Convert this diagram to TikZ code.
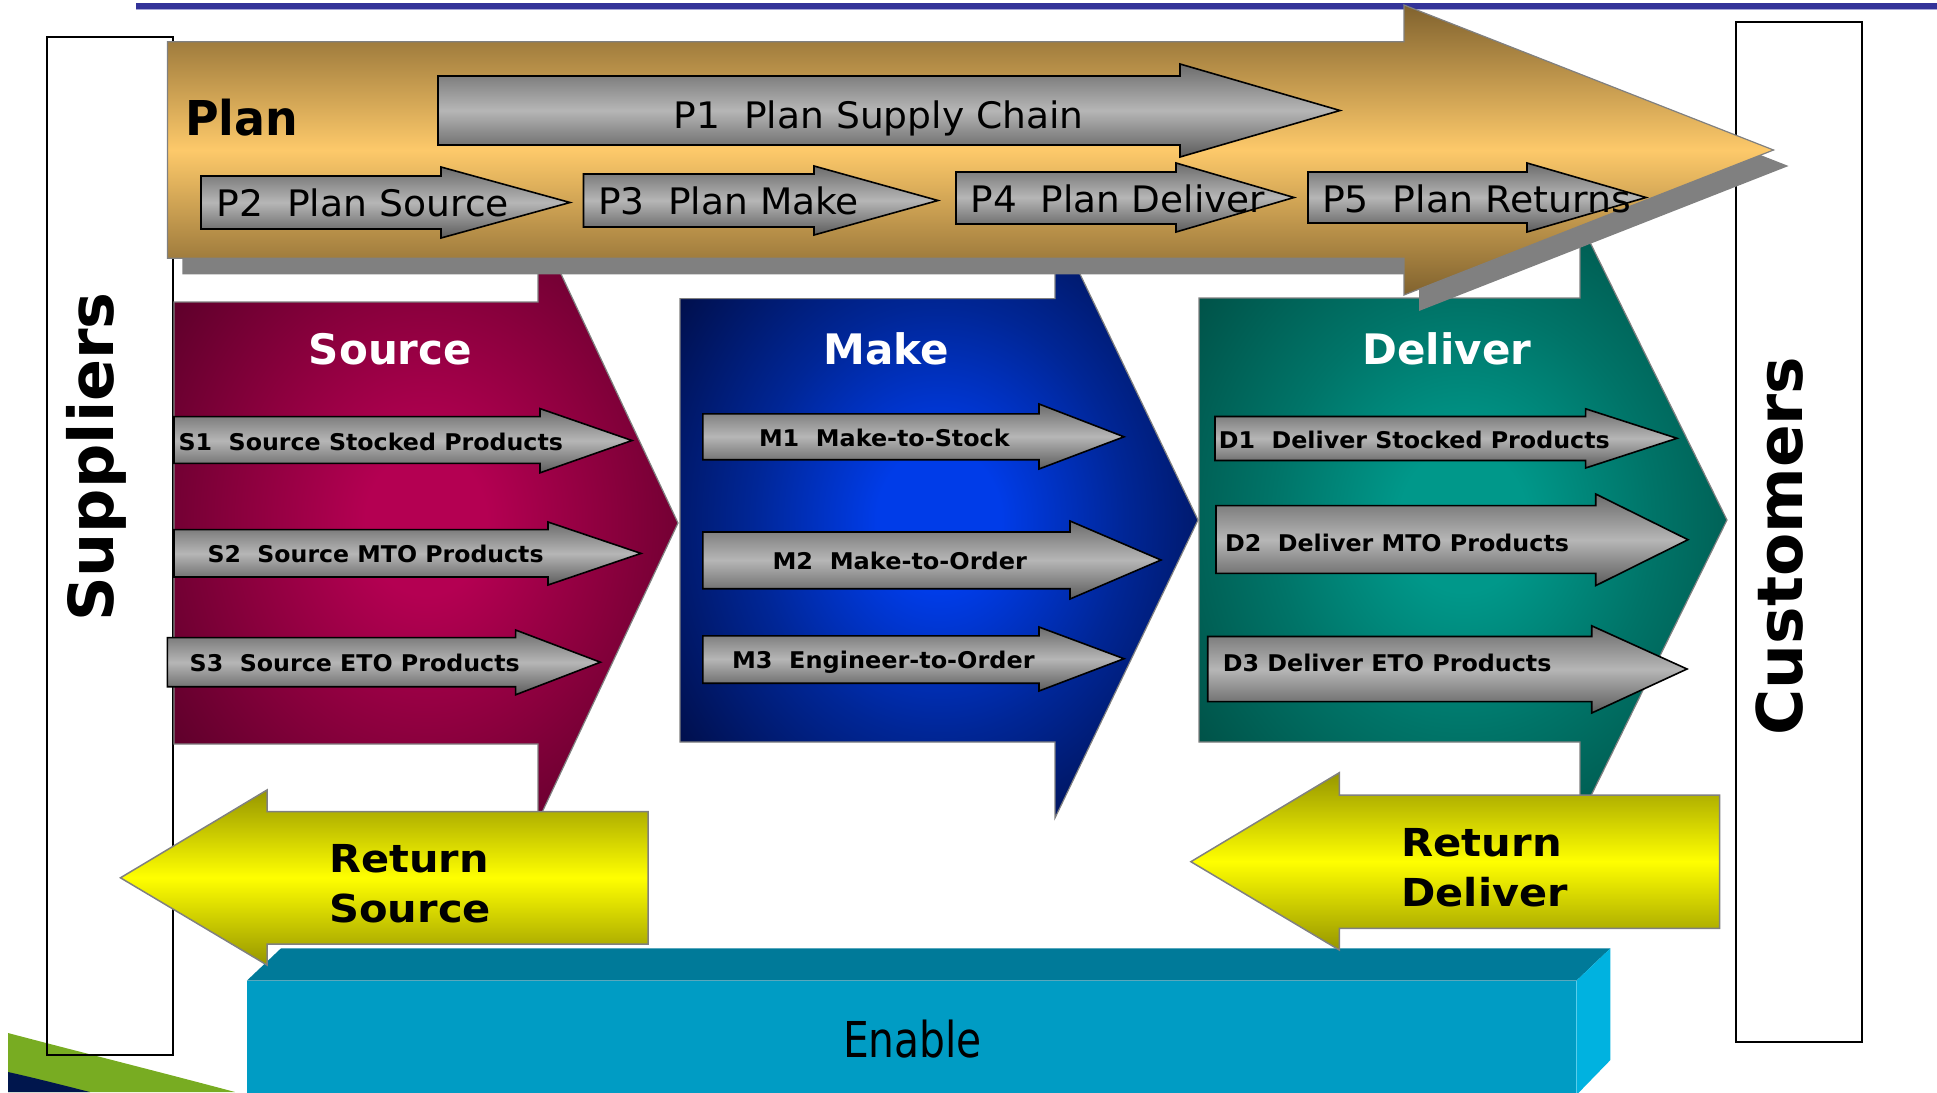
\documentclass[tikz,border=0pt]{standalone}
\usepackage{fontspec}
\setmainfont{DejaVu Sans}
\usepackage{graphicx}

% colours
\definecolor{srcIn}{RGB}{180,0,82}
\definecolor{srcMid}{RGB}{140,0,62}
\definecolor{srcOut}{RGB}{88,0,40}
\definecolor{mkIn}{RGB}{0,60,232}
\definecolor{mkMid}{RGB}{0,38,150}
\definecolor{mkOut}{RGB}{0,12,66}
\definecolor{dlIn}{RGB}{0,152,138}
\definecolor{dlMid}{RGB}{0,116,104}
\definecolor{dlOut}{RGB}{0,78,68}
\definecolor{planDark}{RGB}{128,98,46}
\definecolor{planLight}{RGB}{253,201,106}
\definecolor{yelDark}{RGB}{150,150,0}
\definecolor{yelLight}{RGB}{255,255,0}
\definecolor{garTop}{RGB}{108,108,108}
\definecolor{garMid}{RGB}{182,182,182}
\definecolor{garBot}{RGB}{92,92,92}
\definecolor{enTop}{RGB}{0,122,153}
\definecolor{enFront}{RGB}{0,156,196}
\definecolor{enSide}{RGB}{0,178,224}
\definecolor{swGreen}{RGB}{120,172,34}
\definecolor{swNavy}{RGB}{0,22,77}
\definecolor{ruleBlue}{RGB}{51,51,153}
\definecolor{ruleLight}{RGB}{165,165,215}
\definecolor{edgeGrey}{RGB}{128,128,128}
\definecolor{shadowGrey}{RGB}{128,128,128}

% centre-bright shadings for the three process arrows
\pgfdeclareradialshading{srcshade}{\pgfpoint{0bp}{0bp}}{color(0bp)=(srcIn); color(6bp)=(srcIn); color(18bp)=(srcMid); color(33bp)=(srcOut); color(50bp)=(srcOut)}
\pgfdeclareradialshading{mkshade}{\pgfpoint{0bp}{0bp}}{color(0bp)=(mkIn); color(6bp)=(mkIn); color(18bp)=(mkMid); color(33bp)=(mkOut); color(50bp)=(mkOut)}
\pgfdeclareradialshading{dlshade}{\pgfpoint{0bp}{0bp}}{color(0bp)=(dlIn); color(6bp)=(dlIn); color(18bp)=(dlMid); color(33bp)=(dlOut); color(50bp)=(dlOut)}

% squeeze a text horizontally to a given width (in pt), height unchanged
\newcommand{\wfit}[2]{\resizebox{#1pt}{\height}{#2}}

\tikzset{
  txt/.style={inner sep=0pt, outer sep=0pt, anchor=base west},
  planfont/.style={font=\fontsize{48}{52}\selectfont\bfseries},
  pfont/.style={font=\fontsize{36.5}{40}\selectfont},
  titlefont/.style={font=\fontsize{42}{46}\selectfont\bfseries, text=white, inner sep=0pt, anchor=base},
  subfont/.style={font=\fontsize{23}{26}\selectfont\bfseries},
  retfont/.style={font=\fontsize{38.5}{42}\selectfont\bfseries},
  sidefont/.style={font=\fontsize{62}{66}\selectfont\bfseries, rotate=90, inner sep=0pt, anchor=base},
  enfont/.style={font=\fontsize{49.4}{54}\selectfont},
  sidebox/.style={draw=black, line width=2pt},
  greyarrow/.style={draw=black, line width=1.6pt, line join=miter,
    top color=garTop, bottom color=garBot, middle color=garMid},
  bigarrow/.style={shade, draw=edgeGrey, line width=1.2pt, line join=miter},
  planarrow/.style={draw=edgeGrey, line width=1.2pt, line join=miter,
    top color=planDark, bottom color=planDark, middle color=planLight},
  retarrow/.style={draw=edgeGrey, line width=1.5pt, line join=miter,
    top color=yelDark, bottom color=yelDark, middle color=yelLight},
}

\begin{document}
\begin{tikzpicture}[x=1pt,y=-1pt]
\useasboundingbox (0,0) rectangle (1937,1092);

% corner swoosh
\fill[swGreen] (8,1033) .. controls (80,1052) and (160,1072) .. (235,1092) -- (8,1092) -- cycle;
\fill[swNavy] (8,1072) .. controls (35,1078) and (62,1085) .. (90,1092) -- (8,1092) -- cycle;

% top rule
\fill[ruleBlue] (136,3) rectangle (1937,9);
\draw[ruleLight, line width=1pt] (136,9.8) -- (1937,9.8);

% side boxes
\draw[sidebox] (46.7,37.3) rectangle (173.3,1055);
\draw[sidebox] (1735.5,21.7) rectangle (1861.5,1041.7);

% Source, Make, Deliver process arrows
\draw[bigarrow, shading=srcshade] (174,302) -- (538,302) -- (538,225) -- (678,523) -- (538,821) -- (538,744) -- (174,744) -- cycle;
\draw[bigarrow, shading=mkshade] (680,298.6) -- (1055,298.6) -- (1055,222) -- (1198,520) -- (1055,818) -- (1055,742) -- (680,742) -- cycle;
\draw[bigarrow, shading=dlshade] (1199,298) -- (1580,298) -- (1580,222) -- (1727,520) -- (1580,818) -- (1580,742) -- (1199,742) -- cycle;

% Plan arrow with its drop shadow
\fill[shadowGrey, shift={(15,16)}] (167.4,41.7) -- (1404,41.7) -- (1404,5) -- (1773.5,150) -- (1404,295) -- (1404,258.3) -- (167.4,258.3) -- cycle;
\draw[planarrow] (167.4,41.7) -- (1404,41.7) -- (1404,5) -- (1773.5,150) -- (1404,295) -- (1404,258.3) -- (167.4,258.3) -- cycle;
\node[txt, planfont] (planlbl) at (185,135) {\wfit{113}{Plan}};

% planning sub-processes
\draw[greyarrow] (438,76) -- (1180,76) -- (1180,64) -- (1340,110.5) -- (1180,157) -- (1180,145) -- (438,145) -- cycle;
\draw[greyarrow] (201,176) -- (441,176) -- (441,167) -- (570,202.5) -- (441,238) -- (441,229) -- (201,229) -- cycle;
\draw[greyarrow] (583.5,174) -- (814,174) -- (814,166) -- (938,200.5) -- (814,235) -- (814,227) -- (583.5,227) -- cycle;
\draw[greyarrow] (956,172) -- (1176,172) -- (1176,163) -- (1294,197.5) -- (1176,232) -- (1176,224) -- (956,224) -- cycle;
\draw[greyarrow] (1308,172) -- (1527,172) -- (1527,163) -- (1646,197.5) -- (1527,232) -- (1527,223) -- (1308,223) -- cycle;
\node[txt, pfont] (p1lbl) at (673.7,128.3) {\wfit{410}{P1~~Plan Supply Chain}};
\node[txt, pfont] (p2lbl) at (216.5,216.7) {\wfit{292.5}{P2~~Plan Source}};
\node[txt, pfont] (p3lbl) at (598,214.5) {\wfit{261}{P3~~Plan Make}};
\node[txt, pfont] (p4lbl) at (970.5,212) {\wfit{294.5}{P4~~Plan Deliver}};
\node[txt, pfont] (p5lbl) at (1322,212) {\wfit{309}{P5~~Plan Returns}};

% process titles
\node[titlefont] (srclbl) at (390.5,364) {Source};
\node[titlefont] (mklbl) at (886,364) {Make};
\node[titlefont] (dllbl) at (1447,364) {Deliver};

% source sub-processes
\draw[greyarrow] (174,416.6) -- (540,416.6) -- (540,408.6) -- (632,440.5) -- (540,472.8) -- (540,463.3) -- (174,463.3) -- cycle;
\draw[greyarrow] (174,529.6) -- (548,529.6) -- (548,522) -- (641,553.4) -- (548,585) -- (548,577) -- (174,577) -- cycle;
\draw[greyarrow] (167.4,637.6) -- (515.6,637.6) -- (515.6,630) -- (600.4,662.2) -- (515.6,694.8) -- (515.6,686.7) -- (167.4,686.7) -- cycle;
\node[txt, subfont] (s1lbl) at (178.6,450) {\wfit{384.4}{S1~~Source Stocked Products}};
\node[txt, subfont] (s2lbl) at (207.6,562.5) {\wfit{336}{S2~~Source MTO Products}};
\node[txt, subfont] (s3lbl) at (189.7,671) {\wfit{330}{S3~~Source ETO Products}};

% make sub-processes
\draw[greyarrow] (702.8,413.8) -- (1039,413.8) -- (1039,404) -- (1124,436.8) -- (1039,469) -- (1039,459.7) -- (702.8,459.7) -- cycle;
\draw[greyarrow] (702.8,532) -- (1070,532) -- (1070,521) -- (1161,560) -- (1070,599) -- (1070,588.7) -- (702.8,588.7) -- cycle;
\draw[greyarrow] (702.8,635.8) -- (1039,635.8) -- (1039,627) -- (1124,658.7) -- (1039,691) -- (1039,683.2) -- (702.8,683.2) -- cycle;
\node[txt, subfont] (m1lbl) at (759,446) {\wfit{250.7}{M1~~Make-to-Stock}};
\node[txt, subfont] (m2lbl) at (772.5,569.5) {\wfit{254.5}{M2~~Make-to-Order}};
\node[txt, subfont] (m3lbl) at (732,668) {\wfit{302.6}{M3~~Engineer-to-Order}};

% deliver sub-processes
\draw[greyarrow] (1215,416.5) -- (1585.6,416.5) -- (1585.6,408.8) -- (1677,438.3) -- (1585.6,468) -- (1585.6,460.5) -- (1215,460.5) -- cycle;
\draw[greyarrow] (1216,505.6) -- (1595.7,505.6) -- (1595.7,494) -- (1688,539.7) -- (1595.7,585.6) -- (1595.7,573.4) -- (1216,573.4) -- cycle;
\draw[greyarrow] (1207.7,636.5) -- (1591.7,636.5) -- (1591.7,625.8) -- (1687,669) -- (1591.7,713) -- (1591.7,701.6) -- (1207.7,701.6) -- cycle;
\node[txt, subfont] (d1lbl) at (1218.8,448) {\wfit{391}{D1~~Deliver Stocked Products}};
\node[txt, subfont] (d2lbl) at (1225,551) {\wfit{344}{D2~~Deliver MTO Products}};
\node[txt, subfont] (d3lbl) at (1222.8,671.5) {\wfit{328.7}{D3 Deliver ETO Products}};

% Enable block
\fill[enTop] (246.8,980.7) -- (281,948.3) -- (1610.4,948.3) -- (1576.4,980.7) -- cycle;
\fill[enFront] (246.8,980.7) rectangle (1576.4,1095);
\fill[enSide] (1576.4,980.7) -- (1610.4,948.3) -- (1610.4,1060) -- (1576.4,1095) -- cycle;
\node[txt, enfont] (enlbl) at (843,1057) {\wfit{139}{Enable}};

% return arrows
\draw[retarrow] (648,811.7) -- (267,811.7) -- (267,790) -- (120.5,877.8) -- (267,965) -- (267,944) -- (648,944) -- cycle;
\draw[retarrow] (1719.6,795) -- (1339.3,795) -- (1339.3,772.7) -- (1190.9,861.7) -- (1339.3,950) -- (1339.3,928.3) -- (1719.6,928.3) -- cycle;
\node[txt, retfont] (rs1lbl) at (329.4,872.7) {\wfit{159.4}{Return}};
\node[txt, retfont] (rs2lbl) at (329.4,922.7) {\wfit{161.6}{Source}};
\node[txt, retfont] (rd1lbl) at (1401.5,856.7) {\wfit{160.3}{Return}};
\node[txt, retfont] (rd2lbl) at (1401.5,906.7) {\wfit{166.3}{Deliver}};

% side labels
\node[sidefont] (suplbl) at (113,457) {Suppliers};
\node[sidefont, font=\fontsize{63}{67}\selectfont\bfseries] (cuslbl) at (1802,546) {Customers};

\end{tikzpicture}
\end{document}
